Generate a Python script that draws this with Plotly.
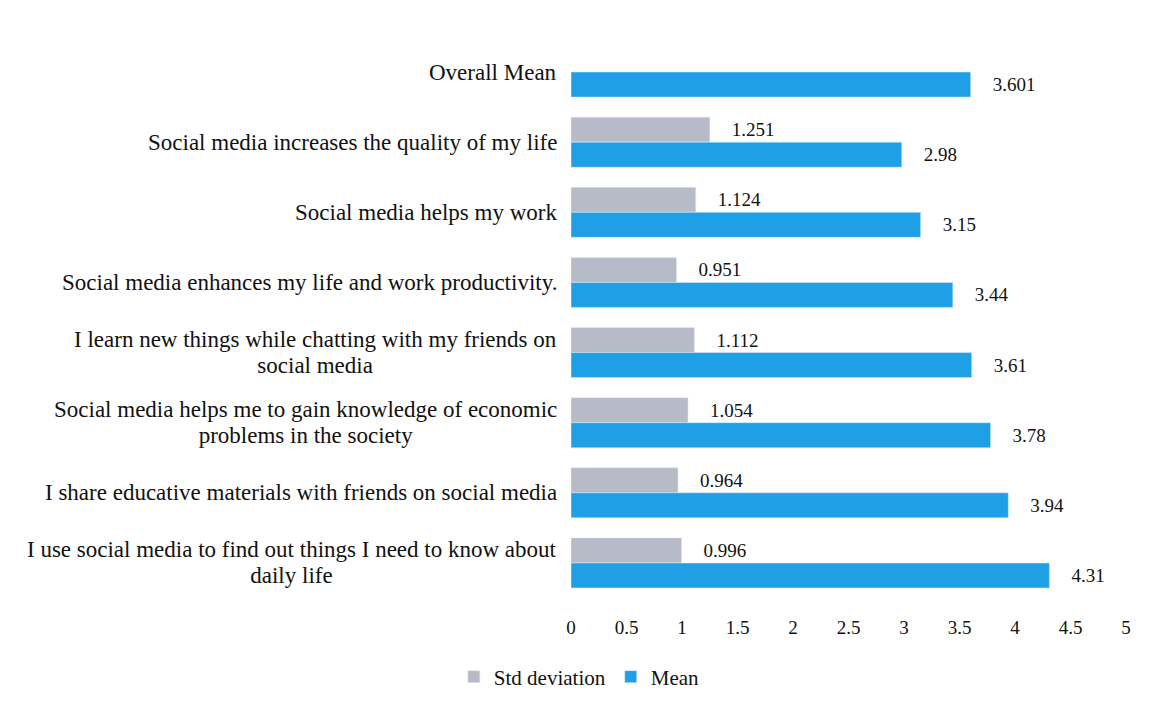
import plotly.graph_objects as go

categories = [
    "Overall Mean",
    "Social media increases the quality of my life",
    "Social media helps my work",
    "Social media enhances my life and work productivity.",
    "I learn new things while chatting with my friends on<br>social media",
    "Social media helps me to gain knowledge of economic<br>problems in the society",
    "I share educative materials with friends on social media",
    "I use social media to find out things I need to know about<br>daily life",
]
std_values = [None, 1.251, 1.124, 0.951, 1.112, 1.054, 0.964, 0.996]
std_labels = ["", "1.251", "1.124", "0.951", "1.112", "1.054", "0.964", "0.996"]
mean_values = [3.601, 2.98, 3.15, 3.44, 3.61, 3.78, 3.94, 4.31]
mean_labels = ["3.601", "2.98", "3.15", "3.44", "3.61", "3.78", "3.94", "4.31"]
x_ticks = [0, 0.5, 1, 1.5, 2, 2.5, 3, 3.5, 4, 4.5, 5]
x_tick_text = ["0", "0.5", "1", "1.5", "2", "2.5", "3", "3.5", "4", "4.5", "5"]

FONT = "Liberation Serif"
pad = "\u00a0\u00a0\u00a0\u00a0"

fig = go.Figure()
fig.add_trace(go.Bar(
    name="Std deviation", y=categories, x=std_values, orientation="h",
    marker=dict(color="#B6BBC7"),
    text=[pad + t if t else "" for t in std_labels], textposition="outside",
    textfont=dict(family=FONT, size=19, color="#111111"), cliponaxis=False,
))
fig.add_trace(go.Bar(
    name="Mean", y=categories, x=mean_values, orientation="h",
    marker=dict(color="#1FA0E6"),
    text=[pad + t for t in mean_labels], textposition="outside",
    textfont=dict(family=FONT, size=19, color="#111111"), cliponaxis=False,
))

annotations = []
for c in categories:
    lines = c.split("<br>")
    shown = "<br>".join('<span style="font-size:23px">' + ln + "</span>" for ln in lines)
    annotations.append(dict(
        x=0, xref="paper", y=c, yref="y", text=shown, showarrow=False,
        xanchor="right", yanchor="middle", align="center", xshift=-12,
        font=dict(family=FONT, size=20, color="#111111"),
    ))

fig.update_layout(
    width=1160, height=708,
    margin=dict(l=571, r=34, t=37, b=110, autoexpand=False),
    paper_bgcolor="white", plot_bgcolor="white",
    barmode="group", bargap=0.286, bargroupgap=0,
    font=dict(family=FONT, size=19, color="#111111"),
    showlegend=True,
    legend=dict(orientation="h", x=0.015, xanchor="center",
                yref="container", y=(708 - 677) / 708, yanchor="middle",
                font=dict(family=FONT, size=21, color="#111111"), itemwidth=30),
    annotations=annotations,
    uniformtext=dict(mode=False),
)
fig.update_xaxes(range=[0, 5], tickvals=x_ticks, ticktext=x_tick_text,
                 showgrid=False, zeroline=False, showline=False, ticks="",
                 tickfont=dict(family=FONT, size=19, color="#111111"), ticklabelstandoff=16)
fig.update_yaxes(autorange="reversed", showticklabels=False, showgrid=False,
                 zeroline=False, showline=False, ticks="")

fig.write_html("out.html")
